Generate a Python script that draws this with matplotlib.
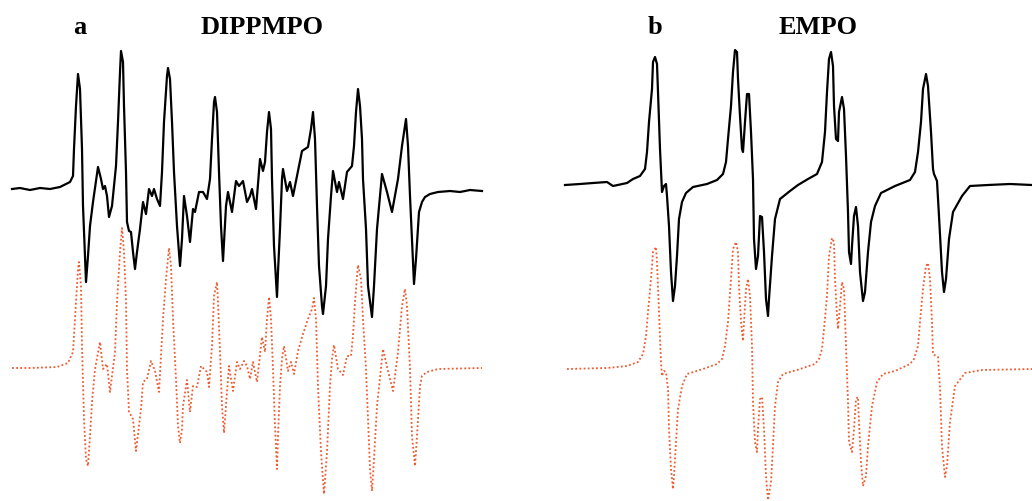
import matplotlib.pyplot as plt

# traces, in image pixel units (x right, y down)
# panel a: DIPPMPO, experimental
a_exp_x = [12, 20, 30, 40, 50, 60, 70, 73, 74, 76, 78, 80, 82, 83, 85, 86, 88, 90, 93, 98, 101, 103, 105, 107,
           109, 112, 116, 118, 120, 121, 123, 124, 126, 127, 129, 131, 133, 135, 137, 140, 143, 146,
           149, 152, 154, 157, 160, 162, 164, 167, 168, 170, 172, 174, 177, 180, 182, 184, 187, 190,
           193, 195, 199, 203, 207, 210, 212, 214, 215, 217, 219, 221, 223, 224, 226, 228, 232, 236,
           239, 243, 247, 250,
           252, 256, 260, 263, 265, 267, 269, 271, 272, 274, 277, 278, 280, 282, 283, 287, 290, 293,
           298, 302, 308, 311, 313, 315, 317, 319, 322, 323, 326, 328, 331, 333, 337, 339, 343, 347,
           352, 354, 356, 358, 360, 362, 363, 366, 368, 372, 374, 377, 382, 387, 392, 398, 402, 406,
           408, 410, 412, 414, 416, 419, 422, 425, 430, 438, 450, 460, 470, 482]
a_exp_y = [190, 189, 191, 189, 190, 188, 183, 177, 150, 107, 75, 90, 150, 207, 257, 283, 257, 227, 203, 168, 180, 190, 187, 197,
           218, 207, 167, 123, 73, 52, 63, 107, 173, 223, 232, 233, 253, 270, 253, 230, 203, 215,
           190, 197, 190, 200, 207, 173, 123, 77, 69, 80, 123, 173, 227, 267, 240, 197, 217, 243,
           210, 213, 193, 193, 200, 180, 140, 103, 98, 113, 173, 227, 262, 243, 207, 193, 213, 182,
           187, 182, 203, 197,
           190, 210, 160, 172, 163, 133, 113, 130, 180, 247, 298, 273, 230, 180, 170, 192, 183, 197,
           172, 152, 148, 130, 113, 140, 207, 267, 307, 315, 287, 240, 197, 172, 193, 183, 200, 173,
           167, 147, 113, 90, 107, 140, 180, 230, 287, 318, 287, 230, 175, 193, 213, 180, 147, 120,
           147, 197, 240, 285, 260, 213, 203, 198, 195, 193, 192, 193, 191, 192]

# panel a: DIPPMPO, simulated
a_sim_x = [12, 30, 57, 68, 73, 76, 78, 79, 81, 82, 84, 86, 88, 90, 92, 95, 100, 103, 107, 110, 115,
           117, 120, 122, 124, 126, 127, 129, 133, 136, 141, 143, 147, 151, 155, 159, 163, 166, 169,
           171, 173, 176, 178, 180, 182, 183, 187, 190, 193, 197, 201, 207, 209, 212, 214, 217,
           218, 220, 222, 224, 225, 227, 229, 233, 237, 240, 244,
           247, 250, 253, 257, 262, 265, 267, 269, 271, 273, 275, 277, 278, 280, 282, 284, 288, 291,
           294, 298, 303, 308, 312, 314, 316, 318, 321, 324, 327, 330, 332, 334, 338, 343, 347, 351,
           353, 355, 357, 358, 361, 363, 366, 368, 370, 372, 374, 377, 383, 388, 393, 398, 402, 405,
           407, 410, 412, 415, 417, 420, 422, 427, 438, 482]
a_sim_y = [369, 369, 368, 364, 353, 303, 270, 263, 287, 347, 420, 460, 467, 437, 403, 370, 343, 370, 365, 393, 353,
           303, 253, 229, 253, 303, 370, 413, 420, 452, 410, 383, 380, 362, 372, 393, 320, 280, 249,
           267, 320, 380, 427, 444, 430, 407, 381, 413, 387, 388, 367, 373, 388, 347, 297, 283,
           303, 353, 407, 434, 420, 393, 367, 392, 363, 370, 362,
           367, 380, 363, 383, 338, 353, 320, 298, 320, 370, 427, 470, 437, 387, 360, 347, 372, 363,
           375, 352, 335, 320, 310, 299, 320, 387, 453, 495, 453, 387, 360, 346, 370, 376, 357, 357,
           337, 303, 277, 266, 280, 320, 370, 420, 470, 492, 460, 407, 350, 372, 392, 353, 307, 290,
           307, 370, 437, 467, 437, 387, 377, 373, 370, 369]

# panel b: EMPO, experimental
b_exp_x = [565, 580, 593, 607, 613, 627, 633, 640, 645, 647, 649, 652, 653, 655, 657, 658, 660, 662, 664,
           666, 667, 669, 671, 673, 675, 677, 679, 682, 686, 693, 707, 717, 723, 726, 728, 731, 733,
           735, 737, 738, 740, 742, 743, 745, 747, 749, 751, 753, 754, 756, 758, 760, 762, 764, 766,
           768, 769, 772, 775, 780, 790, 798, 808, 817, 822, 825, 827, 829, 831, 833, 834, 836, 838,
           839, 842, 844, 846, 848, 849, 851, 852, 854, 856, 858, 860, 863, 865, 868, 871, 875, 881,
           895, 910, 915, 918, 921, 923, 926, 928, 931, 933, 934, 937, 939, 942, 944, 946, 949, 953,
           962, 970, 988, 1010, 1032]
b_exp_y = [186, 185, 184, 183, 187, 184, 180, 177, 170, 153, 123, 90, 63, 58, 65, 93, 150, 193, 187,
           185, 197, 227, 273, 302, 287, 257, 220, 203, 194, 188, 185, 181, 175, 163, 140, 107, 73,
           51, 53, 80, 117, 150, 153, 123, 95, 95, 133, 180, 240, 270, 257, 217, 218, 253, 300,
           317, 300, 257, 220, 200, 192, 186, 180, 175, 163, 133, 93, 60, 53, 67, 107, 140, 142,
           113, 98, 110, 157, 213, 253, 265, 247, 217, 208, 227, 273, 302, 293, 253, 223, 207, 194,
           187, 181, 173, 153, 123, 90, 75, 87, 133, 170, 175, 182, 217, 273, 293, 280, 240, 213,
           197, 187, 186, 185, 186]

# panel b: EMPO, simulated
b_sim_x = [567, 607, 627, 638, 643, 646, 648, 651, 653, 656, 657, 659, 661, 662, 664, 666, 668, 669,
           671, 673, 674, 676, 678, 682, 687, 703, 717, 722, 725, 728, 731, 733, 736, 738, 739, 741,
           743, 744, 746, 748, 750, 752, 753, 755, 757, 758, 760, 762, 764, 766, 768, 771, 773, 775,
           778, 783, 797, 815, 819, 822, 824, 827, 829, 832, 834, 835, 837, 838, 840, 842, 844, 846,
           848, 849, 852, 854, 856, 858, 859, 861, 863, 866, 868, 872, 877, 883, 895, 910, 914, 918,
           920, 923, 926, 928, 930, 932, 933, 936, 938, 940, 942, 945, 947, 950, 955, 965, 982, 1032]
b_sim_y = [370, 369, 367, 363, 355, 337, 313, 280, 253, 248, 263, 313, 363, 377, 372, 373, 390, 430,
           470, 490, 477, 443, 410, 387, 375, 370, 365, 360, 347, 323, 280, 250, 243, 253, 287, 323,
           342, 323, 290, 280, 297, 347, 403, 443, 453, 430, 400, 398, 430, 477, 501, 483, 447, 407,
           383, 375, 371, 365, 360, 350, 330, 297, 257, 239, 243, 280, 317, 330, 307, 283, 290, 347,
           403, 443, 453, 430, 400, 398, 423, 463, 487, 477, 447, 407, 383, 375, 372, 365, 360, 347,
           323, 290, 267, 264, 280, 323, 355, 357, 358, 390, 447, 478, 467, 423, 387, 374, 371, 370]

fig = plt.figure(figsize=(10.32, 5.02), dpi=100)
ax = fig.add_axes([0, 0, 1, 1])
ax.set_xlim(0, 1032)
ax.set_ylim(502, 0)
ax.axis('off')

red = '#ef5a2f'
ax.plot(a_exp_x, a_exp_y, color='black', lw=1.6, solid_joinstyle='round')
ax.plot(b_exp_x, b_exp_y, color='black', lw=1.6, solid_joinstyle='round')
ax.plot(a_sim_x, a_sim_y, color=red, lw=1.3, ls=(0, (1, 1.3)))
ax.plot(b_sim_x, b_sim_y, color=red, lw=1.3, ls=(0, (1, 1.3)))

tfont = dict(family='Liberation Serif', weight='bold', fontsize=19, va='center', ha='center')
ax.text(80, 27, 'a', **tfont)
ax.text(262, 27, 'DIPPMPO', **tfont)
ax.text(655, 27, 'b', **tfont)
ax.text(818, 27, 'EMPO', **tfont)

fig.savefig('out.png', dpi=100)
